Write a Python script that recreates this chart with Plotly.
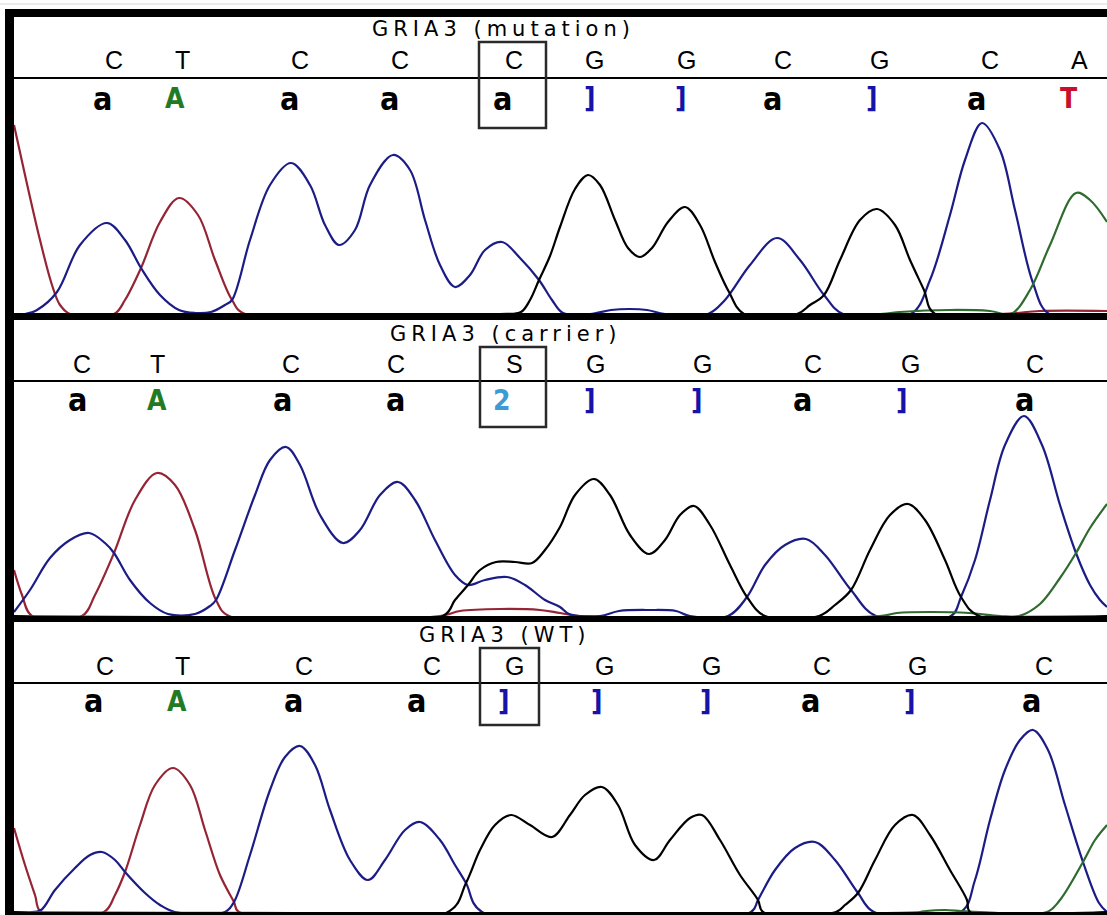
import plotly.graph_objects as go

# ---------------- data (scan position, signal intensity) ----------------
# Panel 1: GRIA3 (mutation)
P1_RED_X = [14, 25, 40, 52, 60, 70, 114, 125, 141, 160, 179, 198, 215, 232, 245, 1000, 1040, 1107]
P1_RED_Y = [189, 139, 74, 29, 9, 0, 0, 14, 46, 92, 116, 99, 54, 14, 0, 0, 3, 3]
P1_BLUE_X = [25, 37, 57, 80, 107, 125, 141, 160, 179, 195, 211, 225, 232, 250, 270, 291, 310, 325, 339,
             355, 370, 393, 410, 425, 440, 455, 470, 485, 502, 520, 539, 552, 563, 590, 611, 630, 647,
             665, 708, 725, 750, 777, 800, 824, 843, 911, 930, 950, 965, 982, 1000, 1015, 1033, 1049, 1107]
P1_BLUE_Y = [0, 4, 22, 69, 91, 74, 46, 19, 4, 1, 2, 9, 14, 74, 129, 151, 129, 89, 69,
             84, 129, 159, 144, 94, 49, 27, 39, 64, 72, 56, 34, 14, 1, 0, 4, 5, 4,
             0, 0, 14, 49, 76, 54, 19, 0, 0, 34, 99, 154, 191, 164, 104, 31, 0, 0]
P1_BLACK_X = [14, 500, 521, 530, 539, 550, 560, 575, 588, 600, 615, 628, 640, 652, 668, 685, 700, 715,
              729, 744, 797, 810, 824, 840, 860, 877, 895, 910, 924, 935, 1107]
P1_BLACK_Y = [0, 0, 2, 14, 34, 58, 87, 125, 139, 129, 94, 66, 57, 66, 92, 107, 89, 52,
              22, 0, 0, 9, 19, 54, 94, 105, 89, 54, 24, 0, 0]
P1_GREEN_X = [14, 880, 900, 950, 990, 1011, 1030, 1050, 1076, 1090, 1107]
P1_GREEN_Y = [0, 0, 2, 4, 3, 0, 24, 69, 121, 114, 92]

# Panel 2: GRIA3 (carrier)
P2_RED_X = [14, 22, 32, 82, 95, 114, 135, 157, 175, 195, 216, 229, 440, 460, 500, 540, 560, 580, 1107]
P2_RED_Y = [46, 21, 0, 0, 21, 63, 116, 143, 131, 86, 16, 0, 0, 5, 7, 6, 3, 0, 0]
P2_BLUE_X = [14, 30, 50, 70, 89, 105, 114, 130, 150, 168, 195, 210, 216, 235, 255, 270, 286, 300, 320,
             343, 360, 380, 398, 415, 435, 455, 468, 485, 507, 525, 545, 560, 569, 600, 619, 650, 676,
             690, 728, 747, 765, 785, 806, 825, 851, 876, 951, 961, 975, 990, 1005, 1024, 1042, 1060,
             1076, 1090, 1100, 1107]
P2_BLUE_Y = [4, 26, 58, 76, 83, 73, 63, 36, 13, 2, 2, 10, 16, 66, 121, 156, 169, 151, 101,
             73, 86, 121, 134, 116, 76, 41, 31, 36, 39, 31, 16, 9, 2, 0, 5, 6, 5,
             0, 0, 19, 51, 71, 77, 61, 26, 0, 0, 19, 56, 116, 171, 200, 171, 111,
             63, 31, 16, 9]
P2_BLACK_X = [14, 443, 455, 468, 480, 496, 515, 532, 545, 560, 575, 594, 610, 630, 649, 665, 680, 694,
              710, 730, 747, 765, 819, 835, 851, 870, 890, 908, 925, 945, 961, 979, 1107]
P2_BLACK_Y = [0, 0, 16, 31, 46, 54, 54, 53, 66, 89, 121, 137, 121, 81, 62, 76, 101, 110,
              91, 51, 19, 0, 0, 11, 26, 66, 101, 112, 96, 56, 19, 0, 0]
P2_GREEN_X = [14, 880, 897, 930, 969, 1000, 1019, 1040, 1060, 1076, 1090, 1107]
P2_GREEN_Y = [0, 0, 3, 4, 3, 0, 0, 12, 38, 63, 88, 112]

# Panel 3: GRIA3 (WT)
P3_RED_X = [14, 25, 35, 41, 104, 115, 125, 140, 155, 173, 190, 205, 220, 234, 239, 1107]
P3_RED_Y = [84, 47, 17, 0, 0, 17, 40, 87, 127, 144, 127, 82, 37, 10, 0, 0]
P3_BLUE_X = [30, 41, 55, 75, 90, 102, 115, 125, 145, 160, 175, 225, 234, 250, 270, 285, 300, 315, 330,
             350, 368, 385, 405, 420, 440, 455, 466, 482, 751, 758, 775, 795, 815, 835, 858, 874,
             961, 975, 990, 1005, 1020, 1033, 1048, 1065, 1083, 1099, 1107]
P3_BLUE_Y = [0, 2, 22, 44, 57, 60, 52, 40, 19, 7, 0, 0, 10, 57, 122, 155, 166, 147, 102,
             52, 32, 52, 82, 90, 72, 47, 29, 0, 0, 12, 42, 64, 70, 52, 19, 0,
             0, 32, 92, 142, 172, 182, 162, 107, 50, 9, 0]
P3_BLACK_X = [14, 448, 466, 480, 495, 511, 530, 552, 570, 585, 602, 618, 635, 654, 670, 690, 702, 720,
              740, 758, 763, 836, 845, 858, 875, 895, 913, 930, 950, 967, 970, 1107]
P3_BLACK_Y = [0, 0, 29, 62, 87, 97, 87, 75, 97, 117, 125, 107, 67, 52, 72, 94, 97, 72,
              37, 12, 0, 0, 7, 19, 52, 87, 97, 77, 42, 12, 0, 0]
P3_GREEN_X = [14, 920, 926, 945, 961, 980, 1047, 1060, 1083, 1095, 1107]
P3_GREEN_Y = [0, 0, 1, 2, 1, 0, 0, 12, 50, 72, 87]

# Base calls (upper row) and their scan positions
P1_CALLS = ["C", "T", "C", "C", "C", "G", "G", "C", "G", "C", "A"]
P1_CALL_POS = [114, 182, 300, 400, 514, 594, 686, 783, 879, 990, 1079]
P2_CALLS = ["C", "T", "C", "C", "S", "G", "G", "C", "G", "C"]
P2_CALL_POS = [82, 157, 291, 396, 514, 595, 702, 813, 910, 1035]
P3_CALLS = ["C", "T", "C", "C", "G", "G", "G", "C", "G", "C"]
P3_CALL_POS = [105, 182, 304, 432, 514, 604, 711, 822, 917, 1044]

# Lower-row symbols and their scan positions
P1_GLYPHS = ["a", "A", "a", "a", "a", "]", "]", "a", "]", "a", "T"]
P1_GLYPH_POS = [102, 175, 289, 389, 502, 590, 681, 772, 872, 976, 1069]
P2_GLYPHS = ["a", "A", "a", "a", "2", "]", "]", "a", "]", "a"]
P2_GLYPH_POS = [77, 157, 282, 395, 502, 590, 697, 802, 902, 1024]
P3_GLYPHS = ["a", "A", "a", "a", "]", "]", "]", "a", "]", "a"]
P3_GLYPH_POS = [93, 177, 293, 416, 504, 597, 706, 810, 910, 1031]

TITLES = ["GRIA3 (mutation)", "GRIA3 (carrier)", "GRIA3 (WT)"]

# ---------------- styling / layout ----------------
W, H = 1107, 915
TRACE_COLORS = {"red": "#952434", "blue": "#1c1c86", "black": "#000000", "green": "#2f6b2f"}
GLYPH_COLORS = {"a": "#000000", "A": "#237a23", "]": "#1414a8", "T": "#c8102e", "2": "#3c9bd4"}
GLYPH_SIZES = {"a": 32, "A": 28, "]": 28, "T": 28, "2": 28}


def yp(pix):
    return 1 - pix / H


panels = [
    dict(base=314, title_xy=(503, 29), let_y=60, rule_y=78, gly_y=99, box=(479, 546, 42, 128),
         traces=[("red", P1_RED_X, P1_RED_Y), ("blue", P1_BLUE_X, P1_BLUE_Y),
                 ("green", P1_GREEN_X, P1_GREEN_Y), ("black", P1_BLACK_X, P1_BLACK_Y)],
         calls=(P1_CALLS, P1_CALL_POS), glyphs=(P1_GLYPHS, P1_GLYPH_POS), band=(313, 320)),
    dict(base=616, title_xy=(506, 334), let_y=364, rule_y=381, gly_y=400, box=(480, 546, 347, 427),
         traces=[("red", P2_RED_X, P2_RED_Y), ("blue", P2_BLUE_X, P2_BLUE_Y),
                 ("green", P2_GREEN_X, P2_GREEN_Y), ("black", P2_BLACK_X, P2_BLACK_Y)],
         calls=(P2_CALLS, P2_CALL_POS), glyphs=(P2_GLYPHS, P2_GLYPH_POS), band=(616, 622)),
    dict(base=912, title_xy=(504, 635), let_y=666, rule_y=683, gly_y=701, box=(480, 539, 648, 725),
         traces=[("red", P3_RED_X, P3_RED_Y), ("blue", P3_BLUE_X, P3_BLUE_Y),
                 ("green", P3_GREEN_X, P3_GREEN_Y), ("black", P3_BLACK_X, P3_BLACK_Y)],
         calls=(P3_CALLS, P3_CALL_POS), glyphs=(P3_GLYPHS, P3_GLYPH_POS), band=(912, 916)),
]

YMAX = 210
fig = go.Figure()
layout = dict(width=W, height=H, margin=dict(l=0, r=0, t=0, b=0), autosize=False,
              paper_bgcolor="white", plot_bgcolor="rgba(0,0,0,0)", showlegend=False)
shapes, annotations = [], []

for i, p in enumerate(panels):
    n = "" if i == 0 else str(i + 1)
    xa, ya = "x" + n, "y" + n
    layout["xaxis" + n] = dict(domain=[0, 1], range=[0, W], visible=False, fixedrange=True, anchor=ya)
    layout["yaxis" + n] = dict(domain=[yp(p["base"]), yp(p["base"] - YMAX)], range=[0, YMAX],
                               visible=False, fixedrange=True, anchor=xa)
    for color, xs, ys in p["traces"]:
        fig.add_trace(go.Scatter(x=xs, y=ys, mode="lines", xaxis=xa, yaxis=ya, hoverinfo="skip",
                                 line=dict(color=TRACE_COLORS[color], width=2.2, shape="spline", smoothing=1.0)))
    # title (letter-spaced like the original)
    tx, ty = p["title_xy"]
    annotations.append(dict(text='<span style="letter-spacing:5px">' + TITLES[i] + "</span>",
                            x=tx, y=yp(ty), xref=xa, yref="paper", showarrow=False,
                            xanchor="center", yanchor="middle",
                            font=dict(family="DejaVu Sans", size=21, color="black")))
    # upper base calls
    for b, xpos in zip(*p["calls"]):
        annotations.append(dict(text=b, x=xpos, y=yp(p["let_y"]), xref=xa, yref="paper", showarrow=False,
                                xanchor="center", yanchor="middle",
                                font=dict(family="Liberation Sans", size=25, color="black")))
    # lower symbols
    for g, xpos in zip(*p["glyphs"]):
        annotations.append(dict(text="<b>" + g + "</b>", x=xpos, y=yp(p["gly_y"]),
                                xref=xa, yref="paper",
                                showarrow=False, xanchor="center", yanchor="middle",
                                font=dict(family="Liberation Sans Narrow, DejaVu Sans Condensed, Liberation Sans",
                                          size=GLYPH_SIZES[g], color=GLYPH_COLORS[g])))
    # rule under base calls
    shapes.append(dict(type="line", xref="paper", yref="paper", x0=14 / W, x1=1,
                       y0=yp(p["rule_y"]), y1=yp(p["rule_y"]), line=dict(color="black", width=2)))
    # highlight box
    bx0, bx1, by0, by1 = p["box"]
    shapes.append(dict(type="rect", xref="paper", yref="paper", x0=bx0 / W, x1=bx1 / W,
                       y0=yp(by1), y1=yp(by0), line=dict(color="#2a2a2a", width=2.5)))
    # baseline band
    b0, b1 = p["band"]
    shapes.append(dict(type="rect", xref="paper", yref="paper", x0=5 / W, x1=1, y0=yp(b1), y1=yp(b0),
                       fillcolor="black", line=dict(width=0), layer="above"))

# frame: top band and left border
shapes.append(dict(type="rect", xref="paper", yref="paper", x0=5 / W, x1=1, y0=yp(17), y1=yp(9),
                   fillcolor="black", line=dict(width=0)))
shapes.append(dict(type="rect", xref="paper", yref="paper", x0=5 / W, x1=14 / W, y0=0, y1=yp(9),
                   fillcolor="black", line=dict(width=0), layer="above"))
shapes.append(dict(type="line", xref="paper", yref="paper", x0=0, x1=1, y0=yp(4), y1=yp(4),
                   line=dict(color="#d8d8d8", width=1)))

layout["shapes"] = shapes
layout["annotations"] = annotations
fig.update_layout(**layout)

fig.write_html("out.html", config={"displayModeBar": False},
               post_script="document.body.style.margin='0';document.body.style.overflow='hidden';")
